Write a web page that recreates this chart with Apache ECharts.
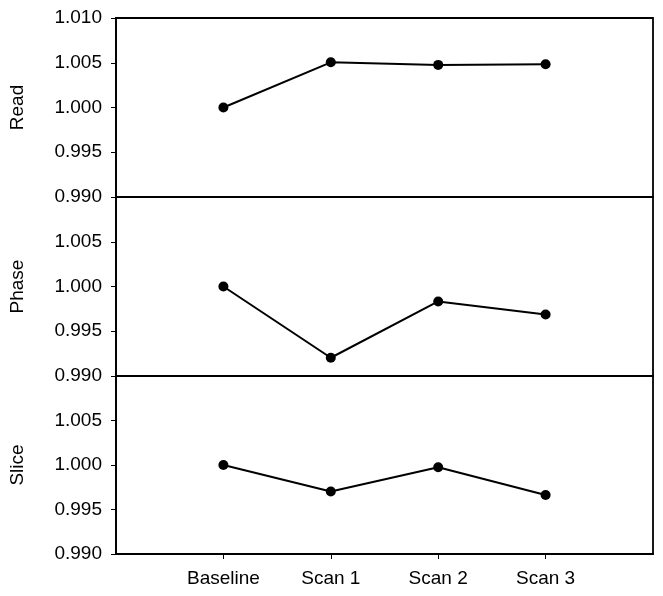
<!DOCTYPE html>
<html>
<head>
<meta charset="utf-8">
<script src="https://cdn.jsdelivr.net/npm/echarts@6/dist/echarts.min.js"></script>
<style>
  html, body { margin: 0; padding: 0; background: #fff; }
  #main { width: 663px; height: 596px; }
</style>
</head>
<body>
<div id="main"></div>
<script>
// 数据
const categories = ["Baseline", "Scan 1", "Scan 2", "Scan 3"];
const panelNames = ["Read", "Phase", "Slice"];
const readValues = [1.0, 1.00505, 1.00476, 1.00483];
const phaseValues = [1.0, 0.99204, 0.99833, 0.99688];
const sliceValues = [1.0, 0.99702, 0.99974, 0.99662];
const yMin = 0.990;
const yMax = 1.010;
const yStep = 0.005;

const allValues = [readValues, phaseValues, sliceValues];
const font = "Liberation Sans, Arial, sans-serif";

const chart = echarts.init(document.getElementById("main"));

const tops = [18, 197, 376];
const heights = [179, 179, 178];

const grids = tops.map((t, i) => ({
  left: 114,
  right: 10,
  top: t,
  height: heights[i],
  show: true,
  borderColor: "#000",
  borderWidth: 1.8,
}));

const xAxes = tops.map((t, i) => ({
  type: "value",
  gridIndex: i,
  min: 0,
  max: categories.length + 1,
  show: i === 2,
  axisLine: { show: true, lineStyle: { color: "#000", width: 1.8 } },
  splitLine: { show: false },
  axisTick: {
    show: true,
    length: 5,
    lineStyle: { color: "#000" },
    customValues: categories.map((c, k) => k + 1),
  },
  axisLabel: {
    color: "#000",
    fontFamily: font,
    fontSize: 19,
    margin: 15,
    customValues: categories.map((c, k) => k + 1),
    formatter: (v) => categories[v - 1] || "",
  },
}));

const yAxes = tops.map((t, i) => ({
  type: "value",
  gridIndex: i,
  min: yMin,
  max: yMax,
  interval: yStep,
  name: panelNames[i],
  nameLocation: "middle",
  nameGap: 89,
  nameTextStyle: { color: "#000", fontFamily: font, fontSize: 19 },
  axisLine: { show: true, lineStyle: { color: "#000", width: 1.8 } },
  axisTick: { show: true, length: 5, lineStyle: { color: "#000" } },
  splitLine: { show: false },
  axisLabel: {
    color: "#000",
    fontFamily: font,
    fontSize: 19,
    margin: 14,
    showMaxLabel: i === 0,
    formatter: (v) => v.toFixed(3),
  },
}));

const series = allValues.map((vals, i) => ({
  type: "line",
  name: panelNames[i],
  xAxisIndex: i,
  yAxisIndex: i,
  data: vals.map((v, k) => [k + 1, v]),
  symbol: "circle",
  symbolSize: 10,
  showAllSymbol: true,
  lineStyle: { color: "#000", width: 2 },
  itemStyle: { color: "#000" },
  animation: false,
}));

const option = {
  animation: false,
  grid: grids,
  xAxis: xAxes,
  yAxis: yAxes,
  series: series,
};

chart.setOption(option);
</script>
</body>
</html>
